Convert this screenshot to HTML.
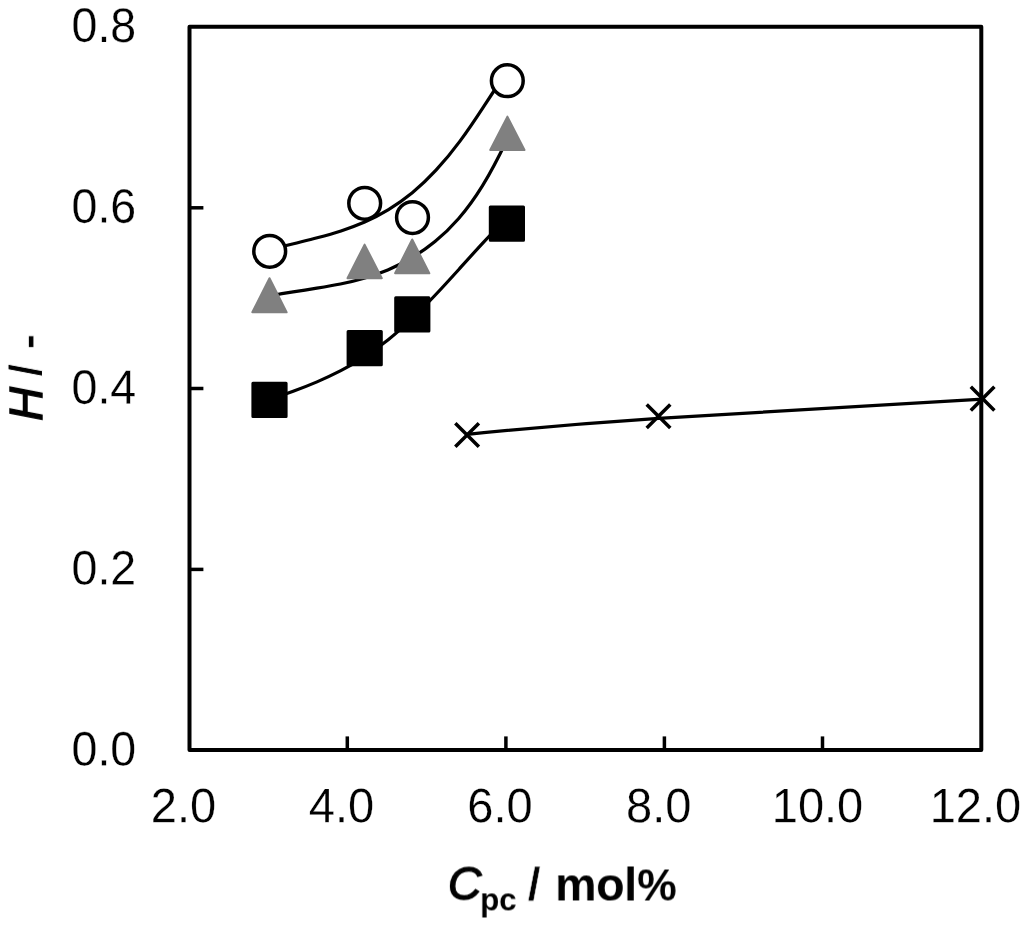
<!DOCTYPE html>
<html>
<head>
<meta charset="utf-8">
<title>Chart</title>
<style>
  html, body { margin: 0; padding: 0; background: #ffffff; }
  body { width: 1024px; height: 928px; overflow: hidden; font-family: "Liberation Sans", sans-serif; }
  svg { display: block; }
  text { font-family: "Liberation Sans", sans-serif; fill: #000; }
  .txt { opacity: 0.999; }
  .tick { font-size: 47px; stroke: #fff; stroke-width: 0.25px; }
  .ttl { font-size: 46.5px; font-weight: bold; }
</style>
</head>
<body>
<svg width="1024" height="928" viewBox="0 0 1024 928">
  <rect x="0" y="0" width="1024" height="928" fill="#ffffff"/>

  <!-- plot frame -->
  <rect x="189.5" y="26.7" width="791.8" height="723.3" fill="none" stroke="#000" stroke-width="4" stroke-linejoin="round"/>

  <!-- y ticks -->
  <g stroke="#000" stroke-width="3.5" fill="none">
    <line x1="189.5" y1="207.8" x2="203.4" y2="207.8"/>
    <line x1="189.5" y1="388.5" x2="203.4" y2="388.5"/>
    <line x1="189.5" y1="569.4" x2="203.4" y2="569.4"/>
    <!-- x ticks -->
    <line x1="347.3" y1="750" x2="347.3" y2="736.4"/>
    <line x1="505.9" y1="750" x2="505.9" y2="736.4"/>
    <line x1="664.4" y1="750" x2="664.4" y2="736.4"/>
    <line x1="822.5" y1="750" x2="822.5" y2="736.4"/>
  </g>

  <g class="txt">
  <!-- y tick labels -->
  <g class="tick" text-anchor="end" style="font-size:46.5px">
    <text transform="translate(136.2,41.9) scale(1,1.04) rotate(0.03)">0.8</text>
    <text transform="translate(136.2,222.8) scale(1,1.04) rotate(0.03)">0.6</text>
    <text transform="translate(136.2,403.7) scale(1,1.04) rotate(0.03)">0.4</text>
    <text transform="translate(136.2,584.6) scale(1,1.04) rotate(0.03)">0.2</text>
    <text transform="translate(136.2,765.5) scale(1,1.04) rotate(0.03)">0.0</text>
  </g>

  <!-- x tick labels -->
  <g class="tick" text-anchor="middle">
    <text transform="translate(183.5,822.2) scale(1,1.03) rotate(0.03)">2.0</text>
    <text transform="translate(341.5,822.2) scale(1,1.03) rotate(0.03)">4.0</text>
    <text transform="translate(500,822.2) scale(1,1.03) rotate(0.03)">6.0</text>
    <text transform="translate(658.7,822.2) scale(1,1.03) rotate(0.03)">8.0</text>
    <text transform="translate(817.5,822.2) scale(1,1.03) rotate(0.03)">10.0</text>
    <text transform="translate(975.4,822.2) scale(1,1.03) rotate(0.03)">12.0</text>
  </g>

  <!-- axis titles -->
  <text class="ttl" transform="translate(447.9,899.4) rotate(0.03)"><tspan font-style="italic" font-weight="normal" font-size="46.5" stroke="#000" stroke-width="1.3">C</tspan><tspan font-size="31.3" dy="10.8" dx="-1.4">pc</tspan><tspan dy="-10" dx="-1.8" stroke="#fff" stroke-width="0.5"> /</tspan><tspan dx="1.8" letter-spacing="-0.3"> mol</tspan><tspan font-size="44.5" dx="0.4">%</tspan></text>
  <text class="ttl" transform="translate(42,420.9) rotate(-90.03)"><tspan font-style="italic" font-weight="normal" font-size="47" stroke="#000" stroke-width="1.3">H</tspan><tspan stroke="#fff" stroke-width="0.9" dx="-2.6"> /</tspan><tspan dx="1.4" dy="1.4" stroke="#fff" stroke-width="0.8"> -</tspan></text>

  </g>

  <!-- curves -->
  <g fill="none" stroke="#000" stroke-width="3.2" stroke-linecap="round" stroke-linejoin="round">
    <!-- circle curve -->
    <path id="cc" d="M269.7,250.1 C277.6,247.8 285.5,245.8 293.5,243.8 C301.4,241.8 309.3,239.9 317.2,237.8 C325.1,235.7 333.1,233.5 341.0,230.9 C348.9,228.4 356.8,225.4 364.7,222.0 C372.7,218.5 380.6,214.4 388.5,209.6 C396.4,204.8 404.3,199.2 412.3,192.7 C420.2,186.2 428.1,178.8 436.0,170.2 C443.9,161.7 451.9,152.1 459.8,141.4 C467.7,130.6 475.6,118.9 483.5,106.8 C491.5,94.8 499.4,82.5 507.3,70.7"/>
    <!-- triangle curve -->
    <path id="tc" d="M269.5,296.0 C277.4,294.5 285.3,293.1 293.1,291.9 C301.0,290.6 308.9,289.5 316.8,288.2 C324.7,286.9 332.6,285.6 340.4,284.0 C348.3,282.4 356.2,280.5 364.1,278.2 C372.0,275.9 379.9,273.2 387.8,269.9 C395.6,266.6 403.5,262.7 411.4,258.0 C419.3,253.3 427.2,247.9 435.0,241.5 C442.9,235.1 450.8,227.6 458.7,218.5 C466.6,209.4 474.5,198.7 482.4,185.9 C490.2,173.1 498.1,158.2 506.0,141.7"/>
    <!-- square curve -->
    <path id="sc" d="M269.5,399.4 C277.4,396.8 285.3,394.1 293.2,391.2 C301.2,388.4 309.1,385.3 317.0,381.9 C324.9,378.5 332.8,374.8 340.8,370.7 C348.7,366.6 356.6,362.0 364.5,356.9 C372.4,351.8 380.3,346.1 388.2,339.8 C396.2,333.4 404.1,326.3 412.0,318.7 C419.9,311.1 427.8,303.0 435.8,294.5 C443.7,286.1 451.6,277.4 459.5,268.7 C467.4,259.9 475.3,251.1 483.2,242.6 C491.2,234.0 499.1,225.6 507.0,217.5"/>
    <!-- x series -->
    <path id="xc" d="M467.10,434.37 C530.90,427.90 594.70,422.56 658.50,418.34 L982.6,399.1"/>
  </g>

  <!-- markers: squares -->
  <g fill="#000" stroke="#000" stroke-width="3" stroke-linejoin="round">
    <rect x="252.9" y="383.3" width="33.2" height="33.2"/>
    <rect x="348.1" y="331.6" width="33.2" height="33.2"/>
    <rect x="395.7" y="297.7" width="33.2" height="33.2"/>
    <rect x="490.3" y="207.0" width="33.2" height="33.2"/>
  </g>

  <!-- markers: triangles -->
  <g fill="#808080" stroke="#808080" stroke-width="2" stroke-linejoin="round">
    <path d="M269.5,278.2 L286.6,312.3 L252.3,312.3 Z"/>
    <path d="M364.6,244.6 L381.8,278.2 L347.5,278.2 Z"/>
    <path d="M412.2,239.5 L429.3,273.3 L395.1,273.3 Z"/>
    <path d="M507.4,116.6 L524.5,150.0 L490.2,150.0 Z"/>
  </g>

  <!-- markers: circles -->
  <g fill="#fff" stroke="#000" stroke-width="3.5">
    <circle cx="269.7" cy="251.3" r="15.9"/>
    <circle cx="364.7" cy="203.3" r="15.9"/>
    <circle cx="412.5" cy="217.6" r="15.9"/>
    <circle cx="507.3" cy="80.7" r="15.9"/>
  </g>

  <!-- markers: crosses -->
  <g fill="none" stroke="#000" stroke-width="3.5" stroke-linecap="butt">
    <path d="M455.30,423.25 L478.90,446.85 M478.90,423.25 L455.30,446.85"/>
    <path d="M646.70,404.50 L670.30,428.10 M670.30,404.50 L646.70,428.10"/>
    <path d="M970.80,386.80 L994.40,410.40 M994.40,386.80 L970.80,410.40"/>
  </g>
</svg>
</body>
</html>
